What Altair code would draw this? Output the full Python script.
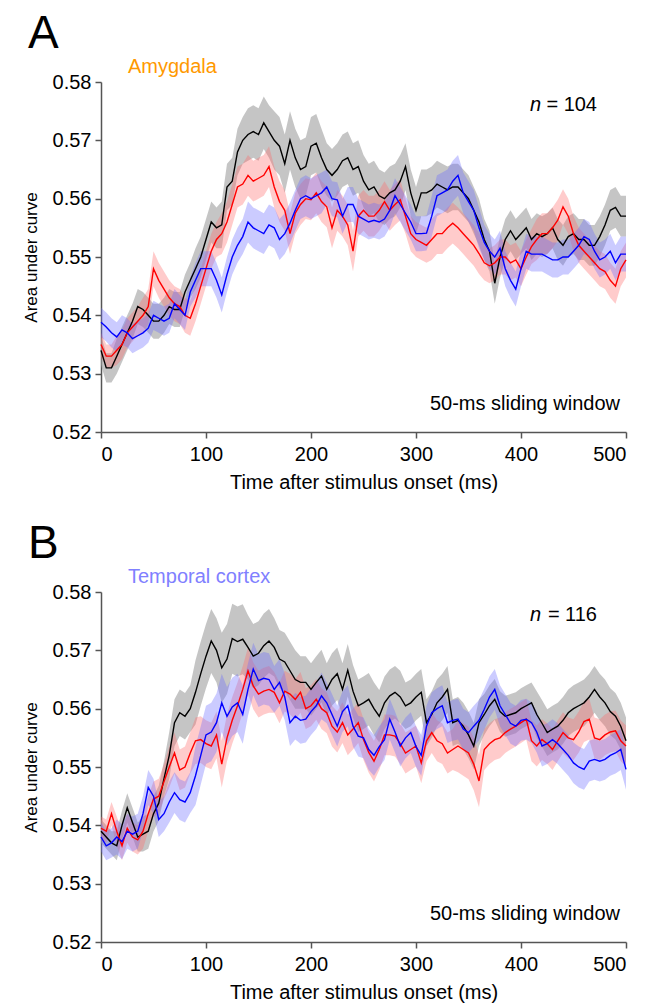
import altair as alt
import pandas as pd

# time axis, 5-ms steps
times = list(range(0, 501, 5))

# ---------- Panel A (Amygdala) ----------
a_black = [.534,.531,.531,.533,.535,.537,.539,.5415,.541,.540,
           .539,.539,.540,.5415,.541,.541,.544,.546,.548,.550,
           .553,.556,.555,.5555,.562,.563,.568,.570,.571,.5715,
           .571,.573,.5715,.570,.569,.566,.570,.567,.565,.5655,
           .569,.5695,.567,.565,.564,.565,.5665,.567,.565,.5655,
           .563,.5615,.562,.5605,.560,.561,.5615,.563,.5655,.561,
           .558,.561,.561,.5615,.5625,.562,.5615,.562,.562,.561,
           .560,.558,.556,.553,.551,.5455,.550,.553,.5545,.553,
           .554,.555,.553,.554,.5535,.554,.555,.553,.552,.5535,
           .554,.553,.553,.552,.552,.5535,.5555,.558,.5585,.557,
           .557]
a_red = [.535,.533,.533,.534,.535,.537,.538,.539,.540,.5415,
         .548,.546,.5445,.543,.542,.5415,.540,.5395,.542,.545,
         .548,.551,.553,.554,.556,.559,.562,.5625,.564,.563,
         .5635,.564,.5655,.562,.5595,.558,.554,.5575,.559,.560,
         .5598,.561,.5595,.5586,.555,.558,.557,.5555,.551,.557,
         .558,.557,.557,.558,.5595,.558,.559,.5598,.557,.554,
         .553,.5525,.552,.553,.554,.554,.555,.5558,.555,.554,
         .553,.552,.5506,.549,.5485,.549,.550,.550,.549,.5495,
         .548,.550,.5518,.553,.554,.554,.555,.5563,.5586,.557,
         .554,.552,.551,.550,.549,.548,.5475,.546,.545,.548,
         .5495]
a_blue = [.5388,.538,.537,.5363,.5375,.537,.536,.5365,.537,.5378,
          .540,.5395,.539,.5395,.542,.541,.540,.544,.546,.548,
          .548,.548,.546,.5435,.547,.550,.552,.5535,.556,.555,
          .5545,.554,.5555,.555,.553,.554,.5558,.558,.560,.5605,
          .560,.5605,.561,.562,.560,.5598,.557,.559,.559,.557,
          .5565,.556,.5563,.556,.5565,.558,.5605,.559,.5575,.556,
          .554,.554,.5541,.557,.5605,.561,.5615,.563,.564,.561,
          .5595,.558,.555,.5525,.551,.550,.5515,.548,.546,.5445,
          .548,.551,.5505,.5505,.5505,.550,.5495,.5495,.550,.550,
          .551,.552,.5535,.553,.551,.5495,.550,.551,.549,.5505,
          .5505]
# SEM half-widths, one value per 25 ms
a_sem_black = [.0025,.003,.003,.003,.0035,.004,.0045,.005,.005,.0045,.0045,
               .0045,.004,.004,.004,.0035,.0035,.0035,.0035,.0035,.0035]
a_sem_red = [.002,.0025,.003,.003,.003,.0035,.0035,.0035,.0035,.0035,.0035,
             .0035,.003,.0035,.0035,.003,.003,.0035,.003,.003,.003]
a_sem_blue = [.0025,.0025,.0025,.0025,.003,.003,.0035,.0035,.0035,.003,.003,
              .003,.003,.0035,.0035,.003,.003,.003,.003,.003,.003]

# ---------- Panel B (Temporal cortex) ----------
b_black = [.539,.538,.537,.5365,.540,.543,.5405,.538,.5385,.539,
           .542,.5438,.548,.552,.5576,.5593,.5587,.560,.5628,.566,
           .569,.5716,.570,.567,.5685,.572,.5715,.5719,.5705,.569,
           .5695,.5708,.5716,.5705,.5685,.568,.5665,.565,.5645,.5645,
           .5633,.5645,.5656,.5633,.565,.566,.5633,.5666,.563,.5605,
           .561,.5616,.560,.5587,.561,.5622,.5628,.562,.5605,.561,
           .562,.5628,.5576,.559,.561,.562,.5633,.5576,.558,.557,
           .5555,.5536,.5576,.559,.5605,.5616,.5595,.5587,.559,.5593,
           .560,.5605,.561,.559,.5575,.5559,.5565,.557,.558,.5593,
           .560,.5605,.561,.562,.5633,.562,.561,.5595,.5587,.557,
           .5545]
b_red = [.5395,.539,.542,.539,.5365,.5395,.538,.5375,.539,.542,
         .5445,.545,.5475,.550,.5524,.5495,.550,.5524,.5545,.5547,
         .554,.5536,.5555,.5505,.555,.558,.5605,.5633,.5665,.5639,
         .5625,.563,.5633,.5628,.561,.563,.5625,.5616,.5628,.560,
         .5605,.5616,.560,.5593,.557,.556,.5576,.5555,.5565,.5576,
         .5547,.5525,.551,.553,.5555,.5555,.5553,.554,.5524,.553,
         .5536,.5507,.5545,.5559,.5545,.554,.5524,.553,.5536,.553,
         .5524,.5505,.5476,.553,.554,.5547,.555,.5559,.5565,.557,
         .5576,.5582,.5545,.5536,.5547,.554,.553,.5545,.5559,.555,
         .5547,.556,.5578,.5582,.555,.5547,.5555,.556,.5562,.5545,
         .5536]
b_blue = [.538,.5365,.537,.538,.5372,.539,.5385,.539,.542,.5465,
          .545,.541,.542,.544,.5456,.5444,.544,.5456,.5485,.552,
          .5555,.556,.5576,.561,.5587,.5603,.561,.559,.5633,.5668,
          .5648,.5652,.565,.5633,.5645,.562,.5576,.5587,.558,.5582,
          .5595,.5605,.5622,.561,.559,.557,.5595,.5605,.557,.5553,
          .555,.553,.552,.5535,.5547,.5582,.556,.5536,.555,.5559,
          .5535,.552,.557,.5593,.560,.5605,.5576,.558,.5582,.5565,
          .5559,.557,.558,.5599,.562,.5633,.5605,.559,.5575,.557,
          .558,.5582,.5576,.556,.5536,.554,.5547,.554,.553,.552,
          .5507,.550,.5496,.551,.5513,.551,.5513,.552,.5524,.553,
          .5496]
b_sem_black = [.002,.0025,.003,.004,.0055,.006,.0055,.005,.0045,.0045,.0045,
               .0045,.004,.004,.004,.0035,.0035,.004,.004,.004,.004]
b_sem_red = [.002,.0025,.003,.0035,.004,.004,.004,.0035,.0035,.0035,.0035,
             .0035,.0035,.0035,.0045,.0035,.0035,.0035,.0035,.0035,.0035]
b_sem_blue = [.0025,.003,.003,.0035,.005,.005,.0045,.004,.004,.0035,.0035,
              .0035,.0035,.0035,.0035,.0035,.0035,.0035,.0035,.0035,.0035]

FONT = "Liberation Sans"
LINE_COLORS = {"black": "#000000", "red": "#ff0000", "blue": "#0000ff"}
BAND_COLORS = {"black": "#9e9e9e", "red": "#ff6a6a", "blue": "#6a6aff"}
BAND_OPAC = {"black": 0.6, "red": 0.35, "blue": 0.35}


def series_df(vals, sems):
    assert len(vals) == len(times)
    rows = []
    for t, v in zip(times, vals):
        s = sems[min(len(sems) - 1, int(round(t / 25)))]
        rows.append({"t": t, "m": v, "lo": v - s, "hi": v + s})
    return pd.DataFrame(rows)


xs = alt.X("t:Q", scale=alt.Scale(domain=[0, 500], nice=False),
           axis=alt.Axis(values=[0, 100, 200, 300, 400, 500],
                         title="Time after stimulus onset (ms)",
                         titleFontSize=20, titlePadding=8, labelPadding=6))
ys_axis = alt.Axis(values=[0.52, 0.53, 0.54, 0.55, 0.56, 0.57, 0.58],
                   format=".2f", title="Area under curve",
                   titleFontSize=17, titlePadding=12, labelPadding=4)
yscale = alt.Scale(domain=[0.52, 0.58], nice=False, zero=False)


def text_layer(txt, x, y, size, color="#000000", align="left", style="normal"):
    return alt.Chart(pd.DataFrame({"s": [txt]})).mark_text(
        align=align, baseline="alphabetic", fontSize=size, font=FONT,
        color=color, fontStyle=style
    ).encode(x=alt.value(x), y=alt.value(y), text="s:N")


def panel(letter, region, region_color, n_text, black, red, blue, sb, sr, su):
    layers = []
    dfs = {"black": series_df(black, sb), "red": series_df(red, sr),
           "blue": series_df(blue, su)}
    for k in ["black", "red", "blue"]:
        layers.append(alt.Chart(dfs[k]).mark_area(
            color=BAND_COLORS[k], opacity=BAND_OPAC[k], strokeWidth=0
        ).encode(x=xs, y=alt.Y("lo:Q", scale=yscale, axis=ys_axis), y2="hi:Q"))
    for k in ["black", "red", "blue"]:
        layers.append(alt.Chart(dfs[k]).mark_line(
            color=LINE_COLORS[k], strokeWidth=1.4
        ).encode(x=xs, y=alt.Y("m:Q", scale=yscale, axis=ys_axis)))
    layers.append(text_layer(letter, -73, -34, 46))
    layers.append(text_layer(region, 27, -9, 20, color=region_color))
    layers.append(text_layer("n", 440, 29, 20, align="right", style="italic"))
    layers.append(text_layer("= " + n_text, 496, 29, 20, align="right"))
    layers.append(text_layer("50-ms sliding window", 519, 328, 20, align="right"))
    return alt.layer(*layers).properties(width=525, height=350)


pa = panel("A", "Amygdala", "#ff9900", "104", a_black, a_red, a_blue,
           a_sem_black, a_sem_red, a_sem_blue)
pb = panel("B", "Temporal cortex", "#8080ff", "116", b_black, b_red, b_blue,
           b_sem_black, b_sem_red, b_sem_blue)

chart = alt.vconcat(pa, pb, spacing=29).properties(
    padding={"left": 22, "top": 11, "right": 5, "bottom": 5}
).configure_view(stroke=None).configure_axis(
    grid=False, domainColor="#555555", tickColor="#555555", domainWidth=1.5,
    tickWidth=1.5, tickSize=6, labelFont=FONT, titleFont=FONT,
    labelFontSize=20, labelColor="#000000", titleColor="#000000",
    titleFontWeight="normal"
)

chart.save("out.html", embed_options={"renderer": "svg", "actions": False})
